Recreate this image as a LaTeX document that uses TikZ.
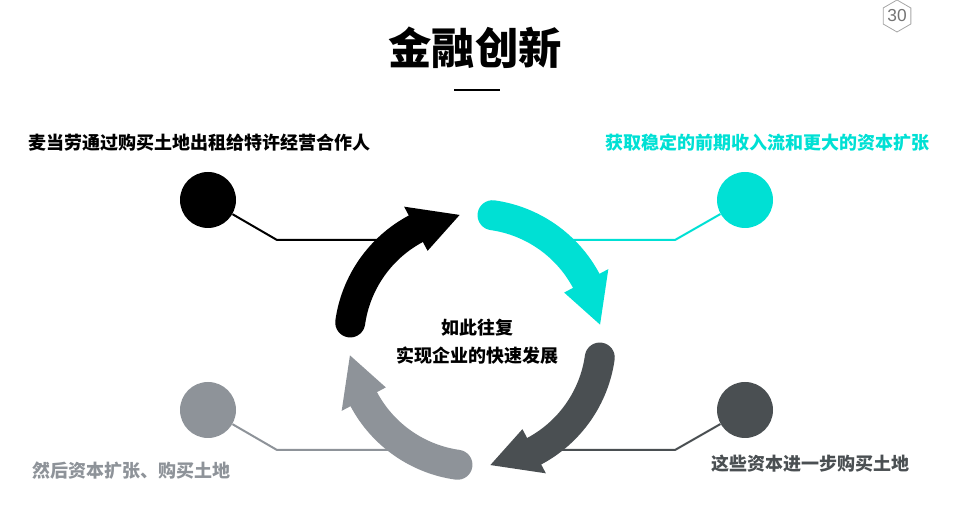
\documentclass[tikz,border=0pt]{standalone}
\usepackage{fontspec}
\newfontfamily\cjk{Noto Sans CJK SC}
\newfontfamily\numfont{Liberation Sans}
\usetikzlibrary{positioning,shapes.geometric}

\definecolor{tealc}{RGB}{0,224,212}
\definecolor{darkc}{RGB}{74,79,82}
\definecolor{greyc}{RGB}{142,147,153}

\begin{document}
\begin{tikzpicture}[
  x=0.75pt, y=0.75pt,
  dot/.style={circle, fill, minimum size=42pt, inner sep=0pt},
  lnk/.style={line width=1.5pt},
  lbl/.style={font=\cjk\bfseries\fontsize{13.5pt}{16pt}\selectfont, inner sep=0pt},
]
  \useasboundingbox (0,0) rectangle (956,505);

  % title and page number
  \node[font=\cjk\bfseries\fontsize{32.5pt}{38pt}\selectfont] (title) at (475,457) {金融创新};
  \draw[line width=2pt] (454,415) coordinate (barl) -- (500,415) coordinate (barr);
  \node[draw=black!35, line width=0.6pt, regular polygon, regular polygon sides=6, shape border rotate=30,
        minimum size=24pt, inner sep=0pt, text=black!55, font=\numfont\fontsize{13pt}{14pt}\selectfont] (page) at (897,489) {30};

  % side dots
  \node[dot, black] (d1) at (208,305) {};
  \node[dot, tealc] (d2) at (745,305) {};
  \node[dot, darkc] (d3) at (745,95) {};
  \node[dot, greyc] (d4) at (208,95) {};

  \coordinate (k1) at (277,265); \coordinate (e1) at (400,265);
  \coordinate (k2) at (675,265); \coordinate (e2) at (560,265);
  \coordinate (k3) at (675,55);  \coordinate (e3) at (550,55);
  \coordinate (k4) at (277,55);  \coordinate (e4) at (405,55);

  \draw[lnk, black] (d1) -- (k1) -- (e1);
  \draw[lnk, tealc] (d2) -- (k2) -- (e2);
  \draw[lnk, darkc] (d3) -- (k3) -- (e3);
  \draw[lnk, greyc] (d4) -- (k4) -- (e4);

  % cycle arrows
  \begin{scope}[shift={(475,165)}]
    \foreach \s/\c in {172/black, 82/tealc, -8/darkc, -98/greyc}
      \fill[\c] (\s:141) arc[start angle=\s, end angle=\s-54, radius=141]
        -- (\s-54:151) -- (\s-75:126) -- (\s-54:101) -- (\s-54:111)
        arc[start angle=\s-54, end angle=\s, radius=111]
        arc[start angle=\s+180, end angle=\s, radius=15] -- cycle;
  \end{scope}

  \node[lbl, align=center, font=\cjk\bfseries\fontsize{13.5pt}{21pt}\selectfont] (mid) at (477,163) {如此往复\\实现企业的快速发展};

  \node[lbl, anchor=west] (t1) at (28,362) {麦当劳通过购买土地出租给特许经营合作人};
  \node[lbl, anchor=east, text=tealc] (t2) at (930,362) {获取稳定的前期收入流和更大的资本扩张};
  \node[lbl, anchor=east, text=darkc] (t3) at (910,41) {这些资本进一步购买土地};
  \node[lbl, anchor=west, text=greyc] (t4) at (32,34) {然后资本扩张、购买土地};
\end{tikzpicture}
\end{document}
